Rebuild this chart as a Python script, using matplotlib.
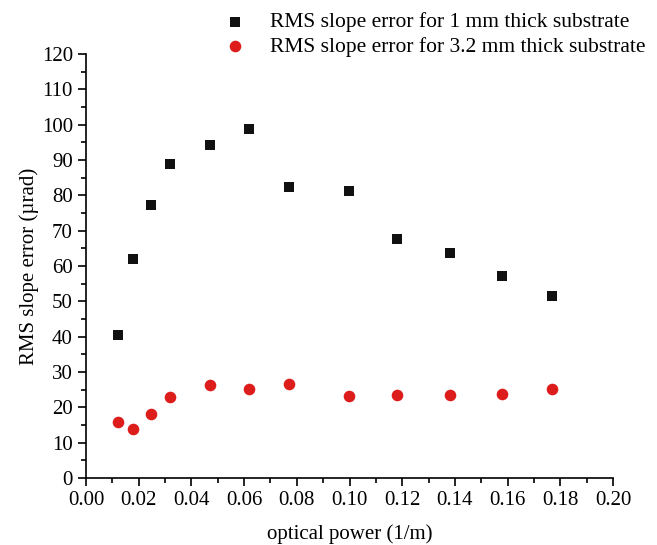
import matplotlib
matplotlib.use("Agg")
import matplotlib.pyplot as plt
from matplotlib.ticker import MultipleLocator

plt.rcParams["font.family"] = ["Liberation Serif", "DejaVu Serif"]

# optical power (1/m)
power = [0.012, 0.018, 0.0245, 0.032, 0.047, 0.062, 0.077, 0.0998, 0.118, 0.138, 0.158, 0.177]
# RMS slope error (urad)
err_1mm = [40.4, 61.9, 77.2, 88.9, 94.2, 98.9, 82.4, 81.3, 67.6, 63.7, 57.2, 51.5]
err_32mm = [15.7, 13.8, 18.1, 22.9, 26.2, 25.3, 26.7, 23.1, 23.6, 23.5, 23.7, 25.1]

fig = plt.figure(figsize=(6.57, 5.45), dpi=100)
ax = fig.add_axes([0.131, 0.123, 0.802, 0.778])

ax.scatter(power, err_1mm, marker="s", s=44, color="#111111", linewidths=0,
           label="RMS slope error for 1 mm thick substrate", zorder=3)
ax.scatter(power, err_32mm, marker="o", s=70, color="#dd1c1c", linewidths=0,
           label="RMS slope error for 3.2 mm thick substrate", zorder=3)

ax.set_xlim(0, 0.20)
ax.set_ylim(0, 120)
ax.xaxis.set_major_locator(MultipleLocator(0.02))
ax.xaxis.set_minor_locator(MultipleLocator(0.01))
ax.yaxis.set_major_locator(MultipleLocator(10))
ax.yaxis.set_minor_locator(MultipleLocator(5))
ax.xaxis.set_major_formatter(plt.FormatStrFormatter("%.2f"))

for side in ("top", "right"):
    ax.spines[side].set_visible(False)
for side in ("left", "bottom"):
    ax.spines[side].set_linewidth(1.2)

ax.tick_params(which="major", direction="out", length=6, width=1.2, labelsize=15)
ax.tick_params(which="minor", direction="out", length=3.5, width=1.2)

ax.set_xlabel("optical power (1/m)", fontsize=15, labelpad=10.5)
ax.set_ylabel("RMS slope error (\u00b5rad)", fontsize=15, labelpad=2)

fig.legend(loc="upper right", bbox_to_anchor=(1.005, 1.005), frameon=False,
           fontsize=15.5, handletextpad=0.6, labelspacing=0.2, borderaxespad=0.3,
           scatterpoints=1)

fig.savefig("out.png", dpi=100)
